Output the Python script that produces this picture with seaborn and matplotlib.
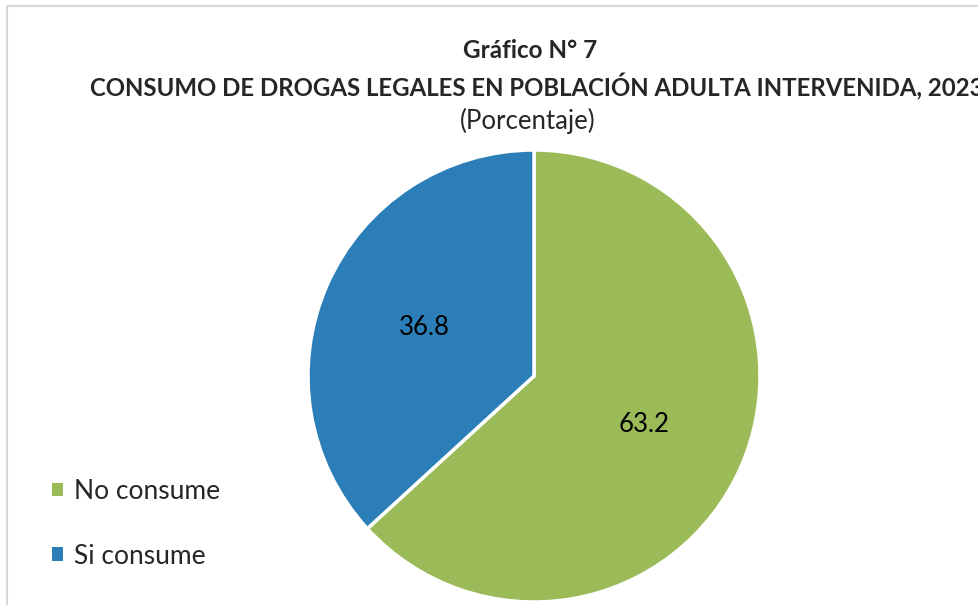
import matplotlib.pyplot as plt
import seaborn as sns
from matplotlib.lines import Line2D
from matplotlib.patches import Patch

# Data
categories = ["No consume", "Si consume"]
values = [63.2, 36.8]
colors = ["#9BBB59", "#2B7EB8"]

title_1 = "Gráfico N° 7"
title_2 = "CONSUMO DE DROGAS LEGALES EN POBLACIÓN ADULTA INTERVENIDA, 2023"
title_3 = "(Porcentaje)"

sns.set_theme(style="white")
plt.rcParams['font.family'] = ['Lato', 'DejaVu Sans']

W, H = 979, 605
fig = plt.figure(figsize=(W / 100, H / 100), dpi=100)

# pie axes (centre ~ (534, 376) px, radius ~ 226 px)
cx, cy, r = 534, 376, 226
ax = fig.add_axes([(cx - r) / W, (H - cy - r) / H, 2 * r / W, 2 * r / H])
wedges, texts, autotexts = ax.pie(
    values, colors=colors, startangle=90, counterclock=False,
    autopct='%.1f', pctdistance=0.53,
    wedgeprops=dict(edgecolor='white', linewidth=2.5),
    textprops=dict(fontsize=18.5, color='black'))
ax.set_xlim(-1.0, 1.0)
ax.set_ylim(-1.0, 1.0)
ax.set_aspect('equal')
ax.axis('off')

# titles (the long line runs past the right edge, as in the original)
fig.text(530 / W, 1 - 50 / H, title_1, ha='center', va='center', fontsize=17.5, fontweight='bold')
fig.text(537 / W, 1 - 87 / H, title_2, ha='center', va='center', fontsize=17.3, fontweight='bold')
fig.text(528 / W, 1 - 121 / H, title_3, ha='center', va='center', fontsize=18.5)

# legend
handles = [Patch(facecolor=c, edgecolor='none') for c in colors]
fig.legend(handles, categories, loc='upper left', bbox_to_anchor=(52 / W, 1 - 479 / H),
           frameon=False, fontsize=19, labelspacing=1.5, handlelength=0.42,
           handleheight=0.42, handletextpad=0.4, borderpad=0, borderaxespad=0)

# chart area border (left and top)
fig.add_artist(Line2D([7.5 / W, 7.5 / W], [0, 1 - 5.5 / H], color='#D9D9D9', linewidth=1.5))
fig.add_artist(Line2D([7.5 / W, 1], [1 - 5.5 / H, 1 - 5.5 / H], color='#D9D9D9', linewidth=1.5))

fig.savefig('out.png', dpi=100)
